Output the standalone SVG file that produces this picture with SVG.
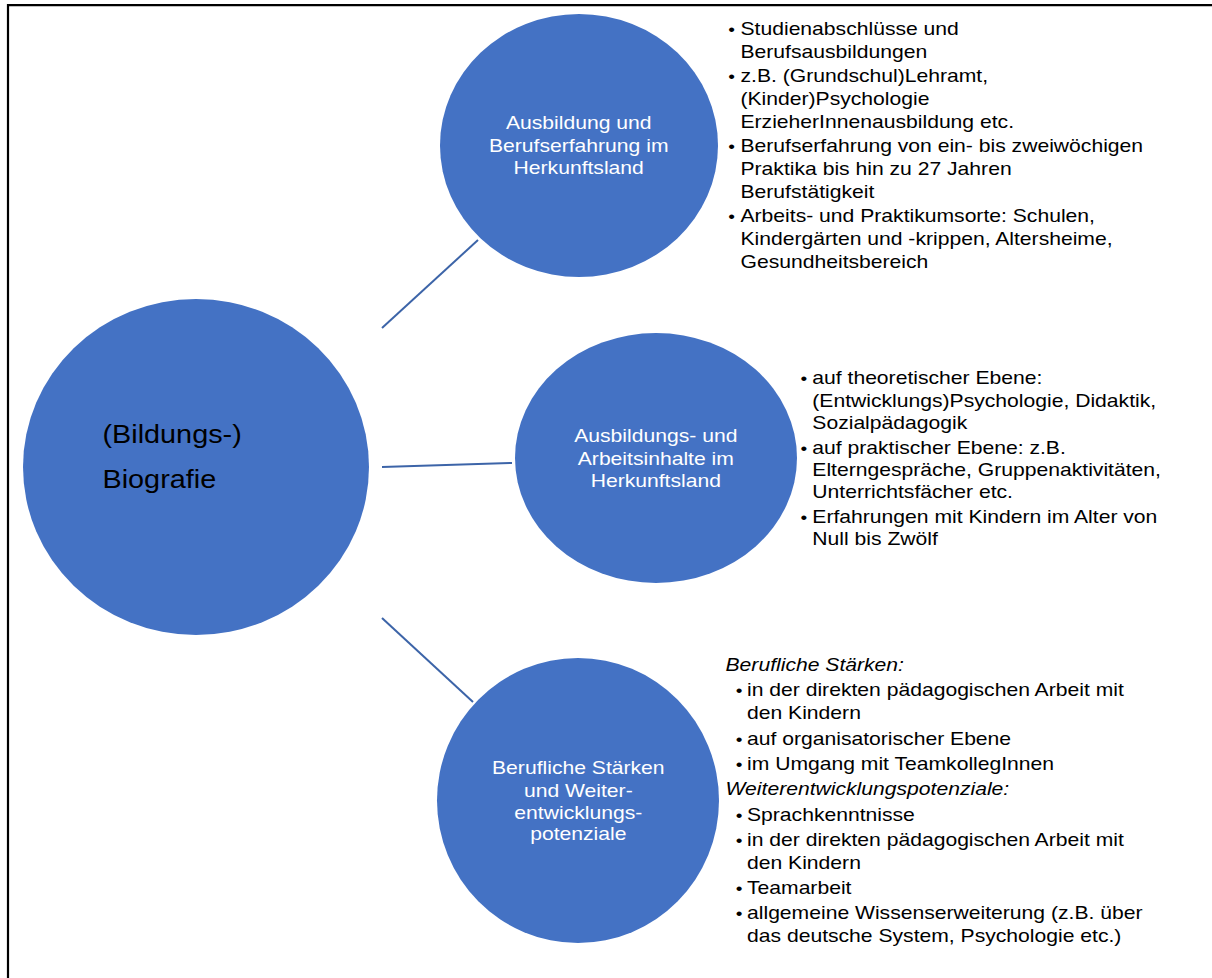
<svg xmlns="http://www.w3.org/2000/svg" width="1212" height="978" viewBox="0 0 1212 978">
  <style>
    .node { fill: #4472C4; }
    .conn { stroke: #3C64A8; stroke-width: 2; fill: none; }
    .lbl { font-family: "Liberation Sans", Arial, sans-serif; font-size: 18.7px; fill: #FFFFFF; text-anchor: middle; }
    .big { font-family: "Liberation Sans", Arial, sans-serif; font-size: 25.5px; fill: #000000; }
    .txt { font-family: "Liberation Sans", Arial, sans-serif; font-size: 18.7px; fill: #000000; }
    .bul { font-family: "Liberation Sans", Arial, sans-serif; font-size: 17px; fill: #000000; text-anchor: middle; }
    .it { font-style: italic; }
  </style>
  <rect x="0" y="0" width="1212" height="978" fill="#FFFFFF"/>
  <g id="frame">
    <path d="M8,979 V5.2 H1213" stroke="#000000" stroke-width="2.2" fill="none"/>
  </g>

  <g id="connectors">
    <line class="conn" x1="382" y1="328" x2="478" y2="240"/>
    <line class="conn" x1="382" y1="467" x2="512" y2="463"/>
    <line class="conn" x1="382" y1="618" x2="473" y2="702"/>
  </g>

  <g id="node-center">
    <ellipse class="node" cx="196" cy="467" rx="173" ry="168"/>
    <g transform="translate(102.5,0) scale(1.13,1)">
      <text class="big" x="0" y="443.5">(Bildungs-)</text>
      <text class="big" x="0" y="488">Biografie</text>
    </g>
  </g>

  <g id="node-ausbildung">
    <ellipse class="node" cx="579" cy="145.5" rx="139" ry="131.5"/>
    <g transform="translate(578.7,0) scale(1.13,1)">
      <text class="lbl" x="0" y="129">Ausbildung und</text>
      <text class="lbl" x="0" y="151.7">Berufserfahrung im</text>
      <text class="lbl" x="0" y="174.3">Herkunftsland</text>
    </g>
  </g>

  <g id="node-inhalte">
    <ellipse class="node" cx="656" cy="458" rx="141" ry="125"/>
    <g transform="translate(655.8,0) scale(1.13,1)">
      <text class="lbl" x="0" y="442.3">Ausbildungs- und</text>
      <text class="lbl" x="0" y="464.7">Arbeitsinhalte im</text>
      <text class="lbl" x="0" y="486.7">Herkunftsland</text>
    </g>
  </g>

  <g id="node-staerken">
    <ellipse class="node" cx="578" cy="800.5" rx="141" ry="142.5"/>
    <g transform="translate(578.3,0) scale(1.13,1)">
      <text class="lbl" x="0" y="774.3">Berufliche Stärken</text>
      <text class="lbl" x="0" y="796.7">und Weiter-</text>
      <text class="lbl" x="0" y="819">entwicklungs-</text>
      <text class="lbl" x="0" y="840.5">potenziale</text>
    </g>
  </g>

  <g id="text-ausbildung" transform="translate(740.5,0) scale(1.13,1)">
    <text class="bul" x="-7.8" y="35.5">•</text>
    <text class="txt" x="0" y="35.5">Studienabschlüsse und</text>
    <text class="txt" x="0" y="58.5">Berufsausbildungen</text>
    <text class="bul" x="-7.8" y="82">•</text>
    <text class="txt" x="0" y="82">z.B. (Grundschul)Lehramt,</text>
    <text class="txt" x="0" y="105">(Kinder)Psychologie</text>
    <text class="txt" x="0" y="128">ErzieherInnenausbildung etc.</text>
    <text class="bul" x="-7.8" y="152">•</text>
    <text class="txt" x="0" y="152">Berufserfahrung von ein- bis zweiwöchigen</text>
    <text class="txt" x="0" y="175">Praktika bis hin zu 27 Jahren</text>
    <text class="txt" x="0" y="198">Berufstätigkeit</text>
    <text class="bul" x="-7.8" y="222">•</text>
    <text class="txt" x="0" y="222">Arbeits- und Praktikumsorte: Schulen,</text>
    <text class="txt" x="0" y="245">Kindergärten und -krippen, Altersheime,</text>
    <text class="txt" x="0" y="268">Gesundheitsbereich</text>
  </g>

  <g id="text-inhalte" transform="translate(812.3,0) scale(1.13,1)">
    <text class="bul" x="-7.5" y="384.5">•</text>
    <text class="txt" x="0" y="384.5">auf theoretischer Ebene:</text>
    <text class="txt" x="0" y="407">(Entwicklungs)Psychologie, Didaktik,</text>
    <text class="txt" x="0" y="429">Sozialpädagogik</text>
    <text class="bul" x="-7.5" y="454">•</text>
    <text class="txt" x="0" y="454">auf praktischer Ebene: z.B.</text>
    <text class="txt" x="0" y="476.5">Elterngespräche, Gruppenaktivitäten,</text>
    <text class="txt" x="0" y="498.5">Unterrichtsfächer etc.</text>
    <text class="bul" x="-7.5" y="523.5">•</text>
    <text class="txt" x="0" y="523.5">Erfahrungen mit Kindern im Alter von</text>
    <text class="txt" x="0" y="545.5">Null bis Zwölf</text>
  </g>

  <g id="text-staerken" transform="translate(747,0) scale(1.13,1)">
    <text class="txt it" x="-19" y="671.5">Berufliche Stärken:</text>
    <text class="bul" x="-7" y="696.5">•</text>
    <text class="txt" x="0" y="696.5">in der direkten pädagogischen Arbeit mit</text>
    <text class="txt" x="0" y="719.5">den Kindern</text>
    <text class="bul" x="-7" y="745">•</text>
    <text class="txt" x="0" y="745">auf organisatorischer Ebene</text>
    <text class="bul" x="-7" y="770">•</text>
    <text class="txt" x="0" y="770">im Umgang mit TeamkollegInnen</text>
    <text class="txt it" x="-19" y="795">Weiterentwicklungspotenziale:</text>
    <text class="bul" x="-7" y="821">•</text>
    <text class="txt" x="0" y="821">Sprachkenntnisse</text>
    <text class="bul" x="-7" y="846">•</text>
    <text class="txt" x="0" y="846">in der direkten pädagogischen Arbeit mit</text>
    <text class="txt" x="0" y="869">den Kindern</text>
    <text class="bul" x="-7" y="894">•</text>
    <text class="txt" x="0" y="894">Teamarbeit</text>
    <text class="bul" x="-7" y="919.5">•</text>
    <text class="txt" x="0" y="919.5">allgemeine Wissenserweiterung (z.B. über</text>
    <text class="txt" x="0" y="942">das deutsche System, Psychologie etc.)</text>
  </g>
</svg>
